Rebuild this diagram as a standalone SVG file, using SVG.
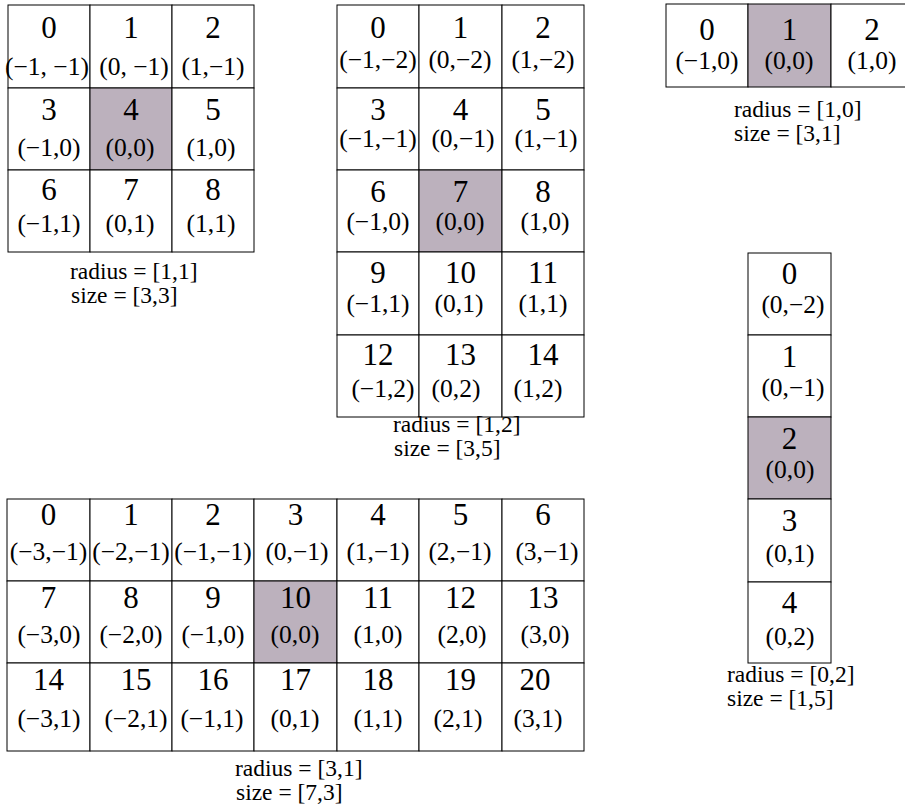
<svg xmlns="http://www.w3.org/2000/svg" width="905" height="809" viewBox="0 0 905 809">
<style>
.cell{fill:#fff;stroke:#000;stroke-width:1}
.hl{fill:#bcb1bd}
text{font-family:"Liberation Serif","Times New Roman",serif;fill:#000}
.n{font-size:31px;text-anchor:middle}
.k{font-size:25.5px;text-anchor:middle}
.l{font-size:23.5px;text-anchor:start}
</style>
<rect width="905" height="809" fill="#fff"/>
<g id="grid-r11">
<g id="a0"><rect class="cell" x="8" y="5" width="82" height="83"/><text class="n" x="49" y="38">0</text><text class="k" x="47" y="75">(−1, −1)</text></g>
<g id="a1"><rect class="cell" x="90" y="5" width="82" height="83"/><text class="n" x="131" y="38">1</text><text class="k" x="134" y="75">(0, −1)</text></g>
<g id="a2"><rect class="cell" x="172" y="5" width="82" height="83"/><text class="n" x="213" y="38">2</text><text class="k" x="213" y="75">(1,−1)</text></g>
<g id="a3"><rect class="cell" x="8" y="88" width="82" height="82"/><text class="n" x="49" y="120">3</text><text class="k" x="49" y="156">(−1,0)</text></g>
<g id="a4"><rect class="cell hl" x="90" y="88" width="82" height="82"/><text class="n" x="131" y="120">4</text><text class="k" x="130" y="156">(0,0)</text></g>
<g id="a5"><rect class="cell" x="172" y="88" width="82" height="82"/><text class="n" x="213" y="120">5</text><text class="k" x="211" y="156">(1,0)</text></g>
<g id="a6"><rect class="cell" x="8" y="170" width="82" height="82"/><text class="n" x="49" y="200">6</text><text class="k" x="49" y="232">(−1,1)</text></g>
<g id="a7"><rect class="cell" x="90" y="170" width="82" height="82"/><text class="n" x="131" y="200">7</text><text class="k" x="130" y="232">(0,1)</text></g>
<g id="a8"><rect class="cell" x="172" y="170" width="82" height="82"/><text class="n" x="213" y="200">8</text><text class="k" x="211" y="232">(1,1)</text></g>
<text class="l" x="70" y="279">radius = [1,1]</text>
<text class="l" x="71" y="303">size = [3,3]</text>
</g>
<g id="grid-r12">
<g id="b0"><rect class="cell" x="337" y="5" width="82" height="83"/><text class="n" x="378" y="38">0</text><text class="k" x="378" y="68">(−1,−2)</text></g>
<g id="b1"><rect class="cell" x="419" y="5" width="83" height="83"/><text class="n" x="460.5" y="38">1</text><text class="k" x="460" y="68">(0,−2)</text></g>
<g id="b2"><rect class="cell" x="502" y="5" width="82" height="83"/><text class="n" x="543" y="38">2</text><text class="k" x="543" y="68">(1,−2)</text></g>
<g id="b3"><rect class="cell" x="337" y="88" width="82" height="82"/><text class="n" x="378" y="120">3</text><text class="k" x="378" y="147">(−1,−1)</text></g>
<g id="b4"><rect class="cell" x="419" y="88" width="83" height="82"/><text class="n" x="460.5" y="120">4</text><text class="k" x="463" y="147">(0,−1)</text></g>
<g id="b5"><rect class="cell" x="502" y="88" width="82" height="82"/><text class="n" x="543" y="120">5</text><text class="k" x="546" y="147">(1,−1)</text></g>
<g id="b6"><rect class="cell" x="337" y="170" width="82" height="82"/><text class="n" x="378" y="202">6</text><text class="k" x="378" y="230">(−1,0)</text></g>
<g id="b7"><rect class="cell hl" x="419" y="170" width="83" height="82"/><text class="n" x="460.5" y="202">7</text><text class="k" x="460" y="230">(0,0)</text></g>
<g id="b8"><rect class="cell" x="502" y="170" width="82" height="82"/><text class="n" x="543" y="202">8</text><text class="k" x="545" y="230">(1,0)</text></g>
<g id="b9"><rect class="cell" x="337" y="252" width="82" height="83"/><text class="n" x="378" y="283">9</text><text class="k" x="378" y="312">(−1,1)</text></g>
<g id="b10"><rect class="cell" x="419" y="252" width="83" height="83"/><text class="n" x="460.5" y="283">10</text><text class="k" x="459" y="312">(0,1)</text></g>
<g id="b11"><rect class="cell" x="502" y="252" width="82" height="83"/><text class="n" x="543" y="283">11</text><text class="k" x="543" y="312">(1,1)</text></g>
<g id="b12"><rect class="cell" x="337" y="335" width="82" height="82"/><text class="n" x="378" y="365">12</text><text class="k" x="383" y="397">(−1,2)</text></g>
<g id="b13"><rect class="cell" x="419" y="335" width="83" height="82"/><text class="n" x="460.5" y="365">13</text><text class="k" x="456" y="397">(0,2)</text></g>
<g id="b14"><rect class="cell" x="502" y="335" width="82" height="82"/><text class="n" x="543" y="365">14</text><text class="k" x="538" y="397">(1,2)</text></g>
<text class="l" x="393" y="432">radius = [1,2]</text>
<text class="l" x="394" y="456">size = [3,5]</text>
</g>
<g id="grid-r10">
<g id="c0"><rect class="cell" x="666" y="4" width="82" height="83"/><text class="n" x="707" y="40">0</text><text class="k" x="707" y="69">(−1,0)</text></g>
<g id="c1"><rect class="cell hl" x="748" y="4" width="83" height="83"/><text class="n" x="789.5" y="40">1</text><text class="k" x="789" y="69">(0,0)</text></g>
<g id="c2"><rect class="cell" x="831" y="4" width="82" height="83"/><text class="n" x="872" y="40">2</text><text class="k" x="872" y="69">(1,0)</text></g>
<text class="l" x="734" y="117">radius = [1,0]</text>
<text class="l" x="734" y="141">size = [3,1]</text>
</g>
<g id="grid-r02">
<g id="d0"><rect class="cell" x="748" y="253" width="83" height="82"/><text class="n" x="789.5" y="284">0</text><text class="k" x="793" y="313">(0,−2)</text></g>
<g id="d1"><rect class="cell" x="748" y="335" width="83" height="82"/><text class="n" x="789.5" y="367">1</text><text class="k" x="793" y="396">(0,−1)</text></g>
<g id="d2"><rect class="cell hl" x="748" y="417" width="83" height="82"/><text class="n" x="789.5" y="449">2</text><text class="k" x="790" y="478">(0,0)</text></g>
<g id="d3"><rect class="cell" x="748" y="499" width="83" height="83"/><text class="n" x="789.5" y="531">3</text><text class="k" x="790" y="562">(0,1)</text></g>
<g id="d4"><rect class="cell" x="748" y="582" width="83" height="81"/><text class="n" x="789.5" y="613">4</text><text class="k" x="790" y="645">(0,2)</text></g>
<text class="l" x="727" y="682">radius = [0,2]</text>
<text class="l" x="727" y="706">size = [1,5]</text>
</g>
<g id="grid-r31">
<g id="e0"><rect class="cell" x="7" y="499" width="83" height="82"/><text class="n" x="48.5" y="525">0</text><text class="k" x="48.5" y="560">(−3,−1)</text></g>
<g id="e1"><rect class="cell" x="90" y="499" width="82" height="82"/><text class="n" x="131" y="525">1</text><text class="k" x="131" y="560">(−2,−1)</text></g>
<g id="e2"><rect class="cell" x="172" y="499" width="82" height="82"/><text class="n" x="213" y="525">2</text><text class="k" x="213" y="560">(−1,−1)</text></g>
<g id="e3"><rect class="cell" x="254" y="499" width="83" height="82"/><text class="n" x="295.5" y="525">3</text><text class="k" x="297" y="560">(0,−1)</text></g>
<g id="e4"><rect class="cell" x="337" y="499" width="82" height="82"/><text class="n" x="378" y="525">4</text><text class="k" x="378" y="560">(1,−1)</text></g>
<g id="e5"><rect class="cell" x="419" y="499" width="83" height="82"/><text class="n" x="460.5" y="525">5</text><text class="k" x="460" y="560">(2,−1)</text></g>
<g id="e6"><rect class="cell" x="502" y="499" width="82" height="82"/><text class="n" x="543" y="525">6</text><text class="k" x="547" y="560">(3,−1)</text></g>
<g id="e7"><rect class="cell" x="7" y="581" width="83" height="82"/><text class="n" x="48.5" y="608">7</text><text class="k" x="49" y="643">(−3,0)</text></g>
<g id="e8"><rect class="cell" x="90" y="581" width="82" height="82"/><text class="n" x="131" y="608">8</text><text class="k" x="131" y="643">(−2,0)</text></g>
<g id="e9"><rect class="cell" x="172" y="581" width="82" height="82"/><text class="n" x="213" y="608">9</text><text class="k" x="213" y="643">(−1,0)</text></g>
<g id="e10"><rect class="cell hl" x="254" y="581" width="83" height="82"/><text class="n" x="295.5" y="608">10</text><text class="k" x="295" y="643">(0,0)</text></g>
<g id="e11"><rect class="cell" x="337" y="581" width="82" height="82"/><text class="n" x="378" y="608">11</text><text class="k" x="378" y="643">(1,0)</text></g>
<g id="e12"><rect class="cell" x="419" y="581" width="83" height="82"/><text class="n" x="460.5" y="608">12</text><text class="k" x="462" y="643">(2,0)</text></g>
<g id="e13"><rect class="cell" x="502" y="581" width="82" height="82"/><text class="n" x="543" y="608">13</text><text class="k" x="545" y="643">(3,0)</text></g>
<g id="e14"><rect class="cell" x="7" y="663" width="83" height="88"/><text class="n" x="48.5" y="690">14</text><text class="k" x="49" y="727">(−3,1)</text></g>
<g id="e15"><rect class="cell" x="90" y="663" width="82" height="88"/><text class="n" x="136" y="690">15</text><text class="k" x="136" y="727">(−2,1)</text></g>
<g id="e16"><rect class="cell" x="172" y="663" width="82" height="88"/><text class="n" x="213" y="690">16</text><text class="k" x="212" y="727">(−1,1)</text></g>
<g id="e17"><rect class="cell" x="254" y="663" width="83" height="88"/><text class="n" x="295.5" y="690">17</text><text class="k" x="295" y="727">(0,1)</text></g>
<g id="e18"><rect class="cell" x="337" y="663" width="82" height="88"/><text class="n" x="378" y="690">18</text><text class="k" x="378" y="727">(1,1)</text></g>
<g id="e19"><rect class="cell" x="419" y="663" width="83" height="88"/><text class="n" x="460.5" y="690">19</text><text class="k" x="458" y="727">(2,1)</text></g>
<g id="e20"><rect class="cell" x="502" y="663" width="82" height="88"/><text class="n" x="535" y="690">20</text><text class="k" x="538" y="727">(3,1)</text></g>
<text class="l" x="235" y="776">radius = [3,1]</text>
<text class="l" x="236" y="800">size = [7,3]</text>
</g>
</svg>
